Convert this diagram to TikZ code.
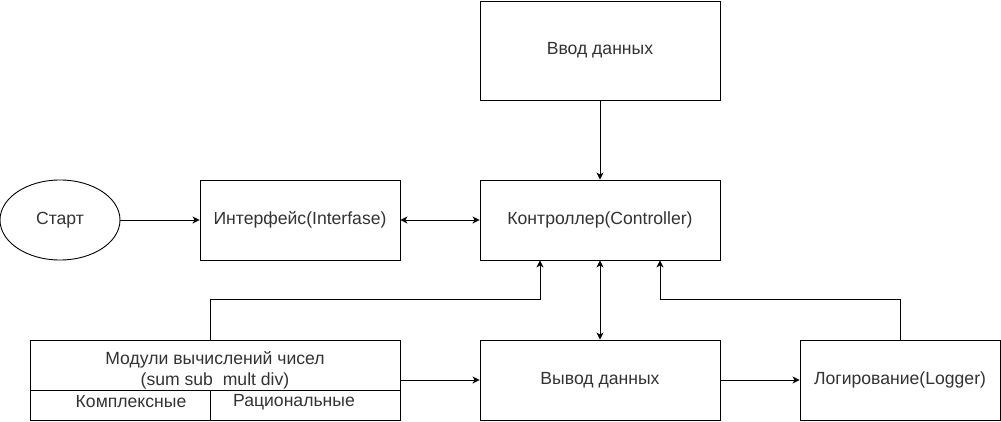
\documentclass[tikz,border=0pt]{standalone}
\usepackage{fontspec}
\setmainfont{Liberation Sans}
\usepackage{tikz}
\usetikzlibrary{positioning,shapes.geometric,arrows.meta}
\tikzset{
  % --- blocks ----------------------------------------------------------------
  block/.style={rectangle,draw=black,line width=0.9pt,fill=white,
                inner sep=2pt,text=black!80,
                font=\fontsize{17.6}{20}\selectfont},
  startblk/.style={ellipse,draw=black,line width=0.9pt,fill=white,
                   inner sep=0pt,minimum width=120pt,minimum height=80pt,
                   text=black!80,font=\fontsize{17.6}{20}\selectfont},
  cell/.style={rectangle,draw=black,line width=0.9pt,minimum height=30pt},
  celltxt/.style={inner sep=0pt,text=black!80,font=\fontsize{17.6}{20}\selectfont},
  % --- connectors ------------------------------------------------------------
  conn/.style={-{Stealth[length=7pt,width=7pt,inset=2pt]},line width=0.9pt},
  bconn/.style={{Stealth[length=7pt,width=7pt,inset=2pt]}-{Stealth[length=7pt,width=7pt,inset=2pt]},
                line width=0.9pt},
}
\begin{document}
\begin{tikzpicture}[x=1pt, y=-1pt]
  \useasboundingbox (0,0) rectangle (1001,422);

  \node[block,minimum width=240pt,minimum height=99pt] (vvod)  at (600,50.5) {Ввод данных};
  \node[startblk]                                     (start) at (60,220)   {Старт};
  \node[block,minimum width=200pt,minimum height=80pt] (intf)  at (300,220)  {Интерфейс(Interfase)};
  \node[block,minimum width=240pt,minimum height=80pt] (kontr) at (600,220)  {Контроллер(Controller)};
  \node[block,minimum width=240pt,minimum height=80pt] (vyvod) at (600,380)  {Вывод данных};
  \node[block,minimum width=200pt,minimum height=80pt] (logr)  at (900,380)  {Логирование(Logger)};

  % module block: header plus two cells
  \node[block,minimum width=370pt,minimum height=50pt,align=center,inner sep=0pt] (modtop) at (215,365) {};
  \node[block,draw=none,fill=none,align=center,inner sep=0pt] (modtxt) at (215,370)
    {Модули вычислений чисел\\[1pt](sum sub\ \ mult div)};
  \node[cell,minimum width=180pt] (modk) at (120,405) {};
  \node[cell,minimum width=190pt] (modr) at (305,405) {};
  \node[celltxt] (modktxt) at (131,402) {Комплексные};
  \node[celltxt] (modrtxt) at (294,402) {Рациональные};

  \draw[conn]  (vvod) -- (kontr);
  \draw[conn]  (start) -- (intf);
  \draw[bconn] (intf) -- (kontr);
  \draw[bconn] (kontr) -- (vyvod);
  % side inputs into the controller
  \draw[conn]  (modk.east |- modtop.north) -- ++(0,-40) -| ([xshift=-60pt]kontr.south);
  \draw[conn]  (logr.north) -- ++(0,-40) -| ([xshift=60pt]kontr.south);
  \draw[conn]  (modtop.east |- vyvod.west) -- (vyvod);
  \draw[conn]  (vyvod) -- (logr);
\end{tikzpicture}
\end{document}
